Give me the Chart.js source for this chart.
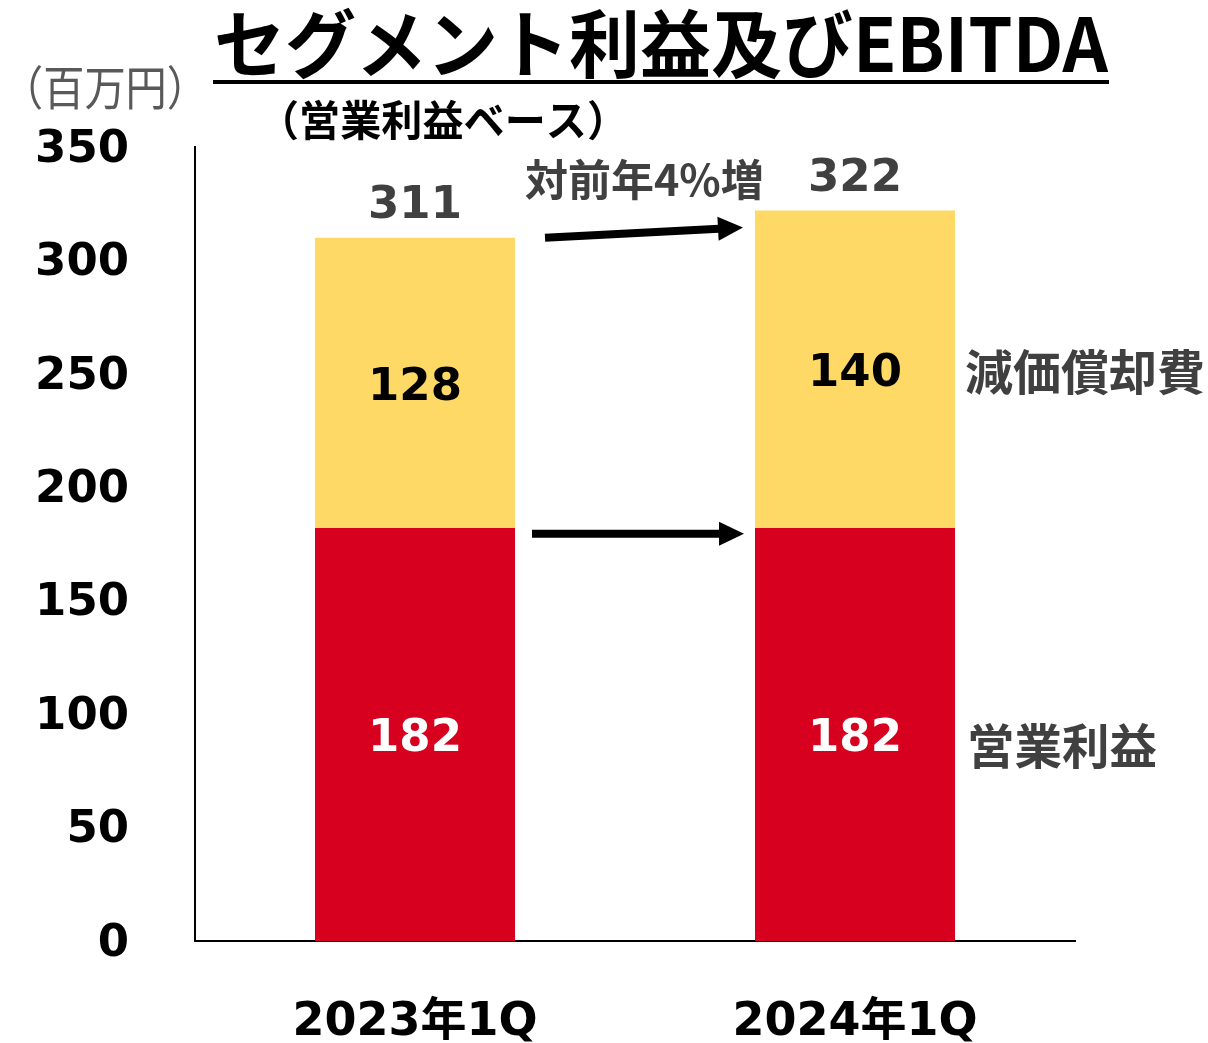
<!DOCTYPE html>
<html>
<head>
<meta charset="utf-8">
<script src="https://cdn.jsdelivr.net/npm/chart.js@4.4.1/dist/chart.umd.min.js"></script>
<style>
  html, body { margin: 0; padding: 0; background: #fff; }
  #chart { display: block; }
</style>
</head>
<body>
<canvas id="chart" width="1208" height="1043"></canvas>
<script>
// data (百万円)
const categories = ["2023年1Q", "2024年1Q"];
const operatingProfit = [182, 182];
const depreciation = [128, 140];
const totals = [311, 322];
const seriesNames = ["営業利益", "減価償却費"];
const yTicks = [0, 50, 100, 150, 200, 250, 300, 350];

const title = "セグメント利益及びEBITDA";
const subTitle = "（営業利益ベース）";
const unitLabel = "（百万円）";
const growthLabel = "対前年4%増";

const RED = "#D7001E";
const YELLOW = "#FFD966";
const DARK = "#404040";
const FONT = "'DejaVu Sans', 'Noto Sans CJK JP', sans-serif";
const CJK = "'Noto Sans CJK JP', sans-serif";

// arrow from the end of one bar to the next
function drawArrow(ctx, x1, y1, x2, y2) {
  const ang = Math.atan2(y2 - y1, x2 - x1);
  const headLen = 25, headHalf = 12;
  const bx = x2 - headLen * Math.cos(ang), by = y2 - headLen * Math.sin(ang);
  ctx.save();
  ctx.strokeStyle = "#000";
  ctx.fillStyle = "#000";
  ctx.lineWidth = 8;
  ctx.beginPath();
  ctx.moveTo(x1, y1);
  ctx.lineTo(bx + 1, by);
  ctx.stroke();
  ctx.beginPath();
  ctx.moveTo(x2, y2);
  ctx.lineTo(bx - headHalf * Math.sin(ang), by + headHalf * Math.cos(ang));
  ctx.lineTo(bx + headHalf * Math.sin(ang), by - headHalf * Math.cos(ang));
  ctx.closePath();
  ctx.fill();
  ctx.restore();
}

const labelsPlugin = {
  id: "labels",
  afterDatasetsDraw(chart) {
    const ctx = chart.ctx;
    const y = chart.scales.y;
    const bottomMeta = chart.getDatasetMeta(0);
    const topMeta = chart.getDatasetMeta(1);

    ctx.save();
    ctx.textAlign = "center";
    ctx.textBaseline = "middle";
    ctx.font = "bold 45px " + FONT;

    // values inside the segments
    bottomMeta.data.forEach((bar, i) => {
      ctx.fillStyle = "#fff";
      ctx.fillText(operatingProfit[i], bar.x, (bar.y + bar.base) / 2 + 5);
    });
    topMeta.data.forEach((bar, i) => {
      ctx.fillStyle = "#000";
      ctx.fillText(depreciation[i], bar.x, (bar.y + bar.base) / 2 + 5);
      // totals on top
      ctx.fillStyle = DARK;
      ctx.fillText(totals[i], bar.x, bar.y - 31);
    });

    // series names to the right of the last bar
    const last = topMeta.data.length - 1;
    const lastTop = topMeta.data[last];
    const rightX = lastTop.x + lastTop.width / 2 + 10;
    ctx.textAlign = "left";
    ctx.fillStyle = DARK;
    ctx.font = "bold 48px " + CJK;
    ctx.fillText(seriesNames[1], rightX, (lastTop.y + lastTop.base) / 2 + 2, 241);
    ctx.fillText(seriesNames[0], rightX + 2, y.getPixelForValue(86), 190);

    // arrows between the bars
    const b0 = topMeta.data[0], b1 = topMeta.data[1];
    const r0 = b0.x + b0.width / 2, l1 = b1.x - b1.width / 2;
    drawArrow(ctx, r0 + 30, y.getPixelForValue(310), l1 - 12, y.getPixelForValue(314.5));
    drawArrow(ctx, r0 + 17, y.getPixelForValue(179.5), l1 - 11, y.getPixelForValue(179.5));

    // growth note
    ctx.fillStyle = DARK;
    ctx.font = "bold 43px " + CJK;
    ctx.textAlign = "left";
    ctx.fillText(growthLabel, r0 + 10, b1.y - 31, 240);

    // titles
    ctx.fillStyle = "#000";
    ctx.font = "bold 74px " + CJK;
    ctx.fillText(title, 214, 44, 894);
    ctx.fillRect(213, 80, 896, 4);
    ctx.font = "bold 42px " + CJK;
    ctx.fillText(subTitle, 258, 120, 370);
    ctx.fillStyle = "#595959";
    ctx.font = "47px " + CJK;
    ctx.fillText(unitLabel, 2, 87, 206);
    ctx.restore();
  }
};

new Chart(document.getElementById("chart"), {
  type: "bar",
  data: {
    labels: categories,
    datasets: [
      { label: seriesNames[0], data: operatingProfit, backgroundColor: RED },
      { label: seriesNames[1], data: depreciation, backgroundColor: YELLOW }
    ]
  },
  options: {
    responsive: false,
    animation: false,
    layout: { padding: { left: 0, top: 147, right: 133, bottom: 0 } },
    datasets: { bar: { barPercentage: 200 / 440, categoryPercentage: 1 } },
    plugins: { legend: { display: false }, tooltip: { enabled: false } },
    scales: {
      x: {
        stacked: true,
        grid: { display: false, drawTicks: false },
        border: { display: true, color: "#000", width: 2 },
        ticks: { color: "#000", padding: 54, font: { family: FONT, size: 46, weight: "bold" } },
        afterFit(scale) { scale.height = 102; }
      },
      y: {
        stacked: true,
        min: 0,
        max: 350,
        afterBuildTicks(scale) { scale.ticks = yTicks.map(v => ({ value: v })); },
        grid: { display: false, drawTicks: false },
        border: { display: true, color: "#000", width: 2 },
        ticks: { color: "#000", padding: 66, labelOffset: 3, font: { family: FONT, size: 45, weight: "bold" } },
        afterFit(scale) { scale.width = 195; }
      }
    }
  },
  plugins: [labelsPlugin]
});
</script>
</body>
</html>
